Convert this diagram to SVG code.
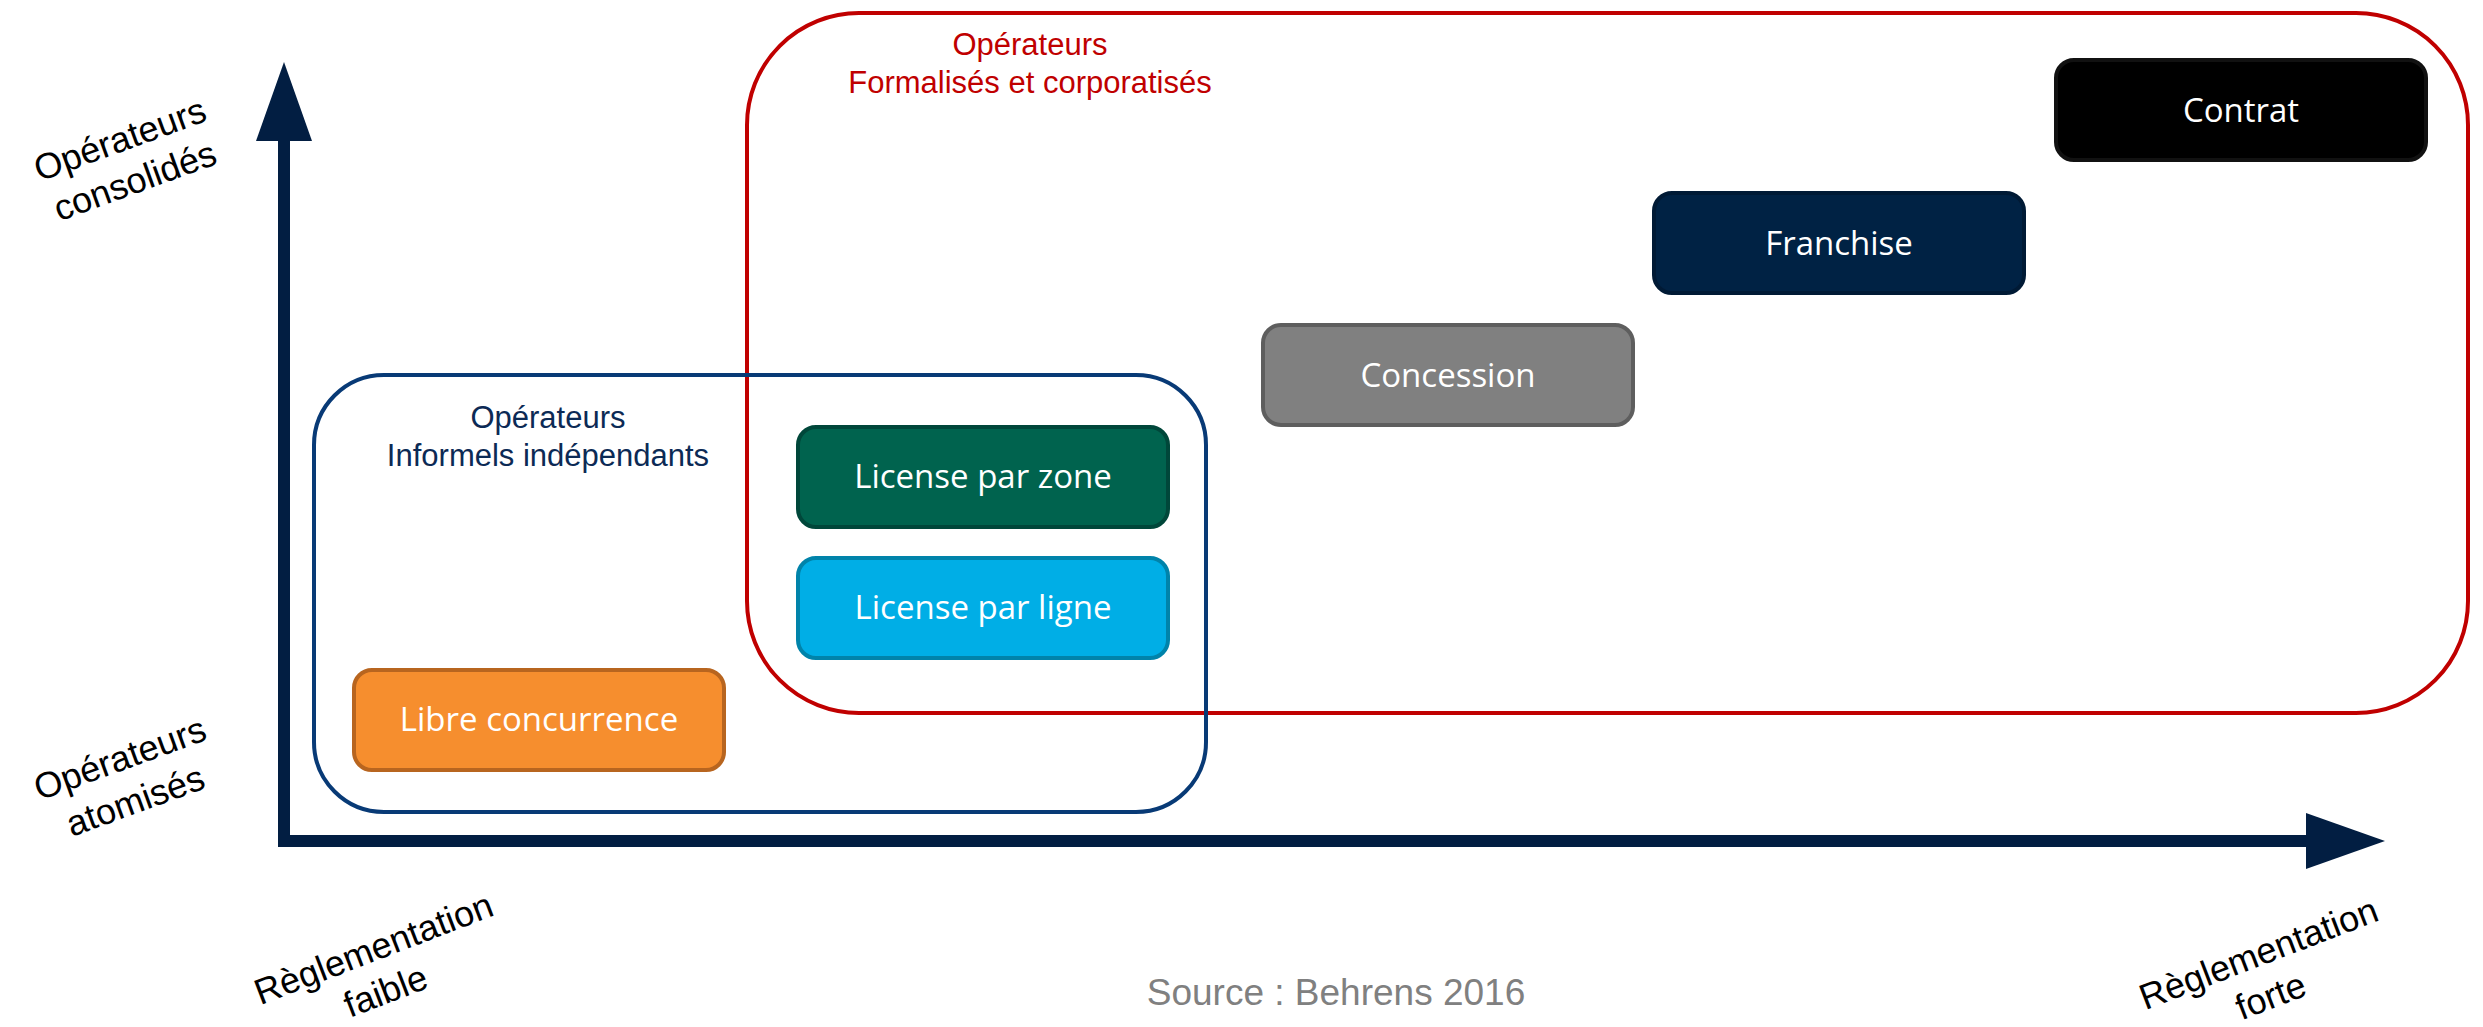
<svg xmlns="http://www.w3.org/2000/svg" width="2483" height="1027" viewBox="0 0 2483 1027">
<style>
.node rect{stroke-width:4}
.node text{font-family:"Open Sans","Noto Sans",sans-serif;font-size:33px;fill:#ffffff;text-anchor:middle}
.grp{fill:none;stroke-width:4}
.lbl{font-family:"Liberation Sans",Arial,sans-serif;font-size:31px;text-anchor:middle}
.ax{font-family:"Liberation Sans",Arial,sans-serif;font-size:36px;fill:#000000;text-anchor:middle}
</style>
<defs>
<marker id="arrow" markerUnits="userSpaceOnUse" markerWidth="80" markerHeight="56" viewBox="0 0 80 56" refX="0" refY="28" orient="auto-start-reverse">
<path d="M0,0 L79,28 L0,56 Z" fill="#021e42"/>
</marker>
</defs>
<rect width="2483" height="1027" fill="#ffffff"/>

<g id="group-formalises">
<rect class="grp" x="747" y="13" width="1721" height="700" rx="112" ry="112" stroke="#c00000"/>
<text class="lbl" fill="#c00000"><tspan x="1030" y="55">Opérateurs</tspan><tspan x="1030" y="93">Formalisés et corporatisés</tspan></text>
</g>

<g id="group-informels">
<rect class="grp" x="314" y="375" width="892" height="437" rx="70" ry="70" stroke="#083a76"/>
<text class="lbl" fill="#0c2a55"><tspan x="548" y="428">Opérateurs</tspan><tspan x="548" y="466">Informels indépendants</tspan></text>
</g>

<g id="connectors">
<polyline points="284,141 284,841 2306,841" fill="none" stroke="#021e42" stroke-width="12" stroke-linejoin="miter" marker-start="url(#arrow)" marker-end="url(#arrow)"/>
</g>

<g id="node-libre" class="node">
<rect x="354" y="670" width="370" height="100" rx="18" fill="#f68e2e" stroke="#b8651f"/>
<text x="539" y="731">Libre concurrence</text>
</g>
<g id="node-zone" class="node">
<rect x="798" y="427" width="370" height="100" rx="18" fill="#00634e" stroke="#00473a"/>
<text x="983" y="488">License par zone</text>
</g>
<g id="node-ligne" class="node">
<rect x="798" y="558" width="370" height="100" rx="18" fill="#00aee6" stroke="#0083aa"/>
<text x="983" y="619">License par ligne</text>
</g>
<g id="node-concession" class="node">
<rect x="1263" y="325" width="370" height="100" rx="18" fill="#808080" stroke="#5e5e5e"/>
<text x="1448" y="387">Concession</text>
</g>
<g id="node-franchise" class="node">
<rect x="1654" y="193" width="370" height="100" rx="18" fill="#002244" stroke="#001a35"/>
<text x="1839" y="255">Franchise</text>
</g>
<g id="node-contrat" class="node">
<rect x="2056" y="60" width="370" height="100" rx="18" fill="#000000" stroke="#111111"/>
<text x="2241" y="122">Contrat</text>
</g>

<g id="axis-labels">
<text class="ax" transform="translate(124,151) rotate(-20)"><tspan x="0" y="0">Opérateurs</tspan><tspan x="0" y="44">consolidés</tspan></text>
<text class="ax" transform="translate(124,770) rotate(-20)"><tspan x="0" y="0">Opérateurs</tspan><tspan x="0" y="45">atomisés</tspan></text>
<text class="ax" transform="translate(378,960) rotate(-21)"><tspan x="0" y="0">Règlementation</tspan><tspan x="-4" y="44">faible</tspan></text>
<text class="ax" transform="translate(2263,965) rotate(-21)"><tspan x="0" y="0">Règlementation</tspan><tspan x="-4" y="44">forte</tspan></text>
<text x="1336" y="1005" font-family="'Liberation Sans',Arial,sans-serif" font-size="37" fill="#808080" text-anchor="middle">Source : Behrens 2016</text>
</g>
</svg>
